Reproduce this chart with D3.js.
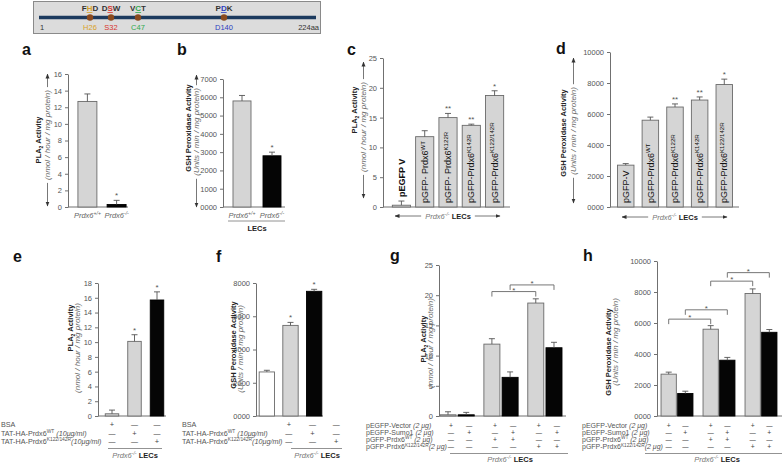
<!DOCTYPE html>
<html><head><meta charset="utf-8">
<script src="https://cdn.jsdelivr.net/npm/d3@7"></script>
<style>body{margin:0;background:#fff}svg{display:block}text{font-family:"Liberation Sans",Arial,sans-serif}</style>
</head><body>
<svg id="c" width="784" height="464"></svg>
<script>
// ---------------- DATA ----------------
const residues = ["H26", "S32", "C47", "D140"];
const residuePos = [26, 32, 47, 140];
const motifs = ["FHD", "DSW", "VCT", "PDK"];

const aCategories = ["Prdx6^+/+", "Prdx6^-/-"];
const aValues = [12.7, 0.3];
const aErrors = [0.9, 0.5];
const aStars = ["", "*"];

const bCategories = ["Prdx6^+/+", "Prdx6^-/-"];
const bValues = [5800, 2800];
const bErrors = [300, 200];
const bStars = ["", "*"];

const cCategories = ["pEGFP V", "pGFP- Prdx6^WT", "pGFP- Prdx6^K122R", "pGFP-Prdx6^K142R", "pGFP-Prdx6^K122/142R"];
const cValues = [0.3, 11.8, 15.0, 13.7, 18.7];
const cErrors = [0.7, 1.0, 0.7, 0.2, 0.8];
const cStars = ["", "", "**", "**", "*"];

const dCategories = ["pGFP-V", "pGFP-Prdx6^WT", "pGFP-Prdx6^K122R", "pGFP-Prdx6^K142R", "pGFP-Prdx6^K122/142R"];
const dValues = [2700, 5600, 6450, 6900, 7900];
const dErrors = [100, 200, 200, 200, 350];
const dStars = ["", "", "**", "**", "*"];

const eValues = [0.3, 10.1, 15.7];
const eErrors = [0.5, 0.9, 1.1];
const eStars = ["", "*", "*"];
const efRows = ["BSA", "TAT-HA-Prdx6^WT^~ (10μg/ml)", "TAT-HA-Prdx6^K122/142R^~(10μg/ml)"];
const efSigns = [["+", "—", "—"], ["—", "+", "—"], ["—", "—", "+"]];

const fValues = [2650, 5450, 7500];
const fErrors = [100, 180, 120];
const fStars = ["", "*", "*"];

const gValues = [0.2, 0.2, 11.9, 6.4, 18.7, 11.3];
const gErrors = [0.5, 0.4, 0.9, 0.9, 0.7, 0.9];
const gBrackets = [[2, 4, 20.6], [3, 5, 21.7]];

const hValues = [2700, 1450, 5600, 3600, 7900, 5400];
const hErrors = [130, 150, 230, 180, 300, 180];
const hBrackets = [[0, 2, 6250], [1, 3, 6850], [2, 4, 8700], [3, 5, 9250]];

const ghRows = ["pEGFP-Vector ~(2 μg)", "pEGFP-Sumo1 ~(2 μg)", "pGFP-Prdx6^WT^~ (2 μg)", "pGFP-Prdx6^K122/142R^~(2 μg)"];
const ghSigns = [["+", "—", "+", "—", "+", "—"], ["—", "+", "—", "+", "—", "+"], ["—", "—", "+", "+", "—", "—"], ["—", "—", "—", "—", "+", "+"]];

const pla2Title = "PLA_2_ Activity";
const pla2Unit = "(nmol / hour / mg protein)";
const gshTitle = "GSH Peroxidase  Activity";
const gshUnit = "(Units / min / mg protein)";
const footerText = "~Prdx6^-/-^~ `LECs";

// ---------------- STYLE ----------------
const GRAY = "#d5d5d5", BLACK = "#050505", WHITE = "#ffffff";
const AXIS = "#707070", TICKTXT = "#555";
const svg = d3.select("#c");
const defs = svg.append("defs");
defs.append("marker").attr("id", "ah").attr("viewBox", "0 0 10 10").attr("refX", 9).attr("refY", 5)
  .attr("markerWidth", 5).attr("markerHeight", 5).attr("markerUnits", "userSpaceOnUse").attr("orient", "auto")
  .append("path").attr("d", "M0,1 L10,5 L0,9 Z").attr("fill", "#333");

function parseRich(s) {
  const parts = []; let cur = "", sup = false, sub = false, it = false, bold = false;
  const flush = () => { if (cur) parts.push({ t: cur, sup, sub, it, bold }); cur = ""; };
  for (const ch of s) {
    if (ch === "^") { flush(); sup = !sup; }
    else if (ch === "_") { flush(); sub = !sub; }
    else if (ch === "~") { flush(); it = !it; }
    else if (ch === "`") { flush(); bold = !bold; }
    else cur += ch;
  }
  flush(); return parts;
}
function rich(sel, s, fs, boldFill) {
  let shift = 0;
  parseRich(s).forEach(p => {
    const ts = sel.append("tspan").text(p.t);
    const target = p.sup ? -fs * 0.38 : p.sub ? fs * 0.25 : 0;
    if (p.sup || p.sub) ts.attr("font-size", fs * 0.68);
    if (target !== shift) { ts.attr("dy", target - shift); shift = target; }
    if (p.it) ts.attr("font-style", "italic");
    if (p.bold) { ts.attr("font-weight", "bold"); if (boldFill) ts.attr("fill", boldFill); }
  });
  return sel;
}

// ---------------- TOP DIAGRAM ----------------
(function () {
  const resColors = ["#d9a227", "#d8342c", "#2eaa4c", "#2b3fc0"];
  const xs = d3.scaleLinear().domain([1, 26, 32, 47, 140, 224]).range([39, 90, 111, 138, 224, 316]);
  svg.append("rect").attr("x", 33.5).attr("y", 1.5).attr("width", 287).attr("height", 32)
    .attr("fill", "#dcdcdc").attr("stroke", "#8a8a8a");
  svg.append("line").attr("x1", xs(1)).attr("x2", xs(224)).attr("y1", 17.5).attr("y2", 17.5)
    .attr("stroke", "#1c3a5e").attr("stroke-width", 3.5);
  residuePos.forEach((p, i) => {
    svg.append("circle").attr("cx", xs(p)).attr("cy", 17.5).attr("r", 3.2).attr("fill", "#8a4a1e");
    const t = svg.append("text").attr("x", xs(p)).attr("y", 11).attr("text-anchor", "middle")
      .attr("font-size", 8).attr("font-weight", "bold").attr("fill", "#333");
    const m = motifs[i];
    t.append("tspan").text(m[0]);
    t.append("tspan").text(m[1]).attr("fill", resColors[i]).attr("text-decoration", "underline");
    t.append("tspan").text(m[2]);
    svg.append("text").attr("x", xs(p)).attr("y", 29.5).attr("text-anchor", "middle")
      .attr("font-size", 7.5).attr("fill", resColors[i]).text(residues[i]);
  });
  svg.append("text").attr("x", 40).attr("y", 29.5).attr("font-size", 7.5).attr("fill", "#333").text("1");
  svg.append("text").attr("x", 319).attr("y", 29.5).attr("text-anchor", "end").attr("font-size", 7.5).attr("fill", "#333").text("224aa");
})();

// ---------------- PANEL HELPERS ----------------
function drawPanel(p) {
  const y = d3.scaleLinear().domain([0, p.max]).range([p.y0, p.yMax]);
  let bx, bw;
  if (p.grouped) {
    const xg = d3.scaleBand().domain(d3.range(p.values.length / 2)).range(p.xRange).paddingInner(p.pi).paddingOuter(p.po);
    const xi = d3.scaleBand().domain([0, 1]).range([0, xg.bandwidth()]).paddingInner(p.pii);
    bx = i => xg(Math.floor(i / 2)) + xi(i % 2); bw = xi.bandwidth();
  } else {
    const x = d3.scaleBand().domain(d3.range(p.values.length)).range(p.xRange).paddingInner(p.pi).paddingOuter(p.po);
    bx = i => x(i); bw = x.bandwidth();
  }
  const cx = i => bx(i) + bw / 2;
  const g = svg.append("g");
  const ax = g.append("g").attr("transform", `translate(${p.axisX},0)`)
    .call(d3.axisLeft(y).tickValues(p.ticks).tickFormat(p.fmt).tickSize(3).tickSizeOuter(0).tickPadding(3))
    .attr("font-family", "'Liberation Sans', Arial, sans-serif").attr("font-size", p.tickFs || 7.5);
  ax.select(".domain").attr("stroke", AXIS);
  ax.selectAll(".tick line").attr("stroke", AXIS);
  ax.selectAll(".tick text").attr("fill", TICKTXT);
  g.append("line").attr("x1", p.axisX).attr("x2", p.axisEnd).attr("y1", y(0)).attr("y2", y(0)).attr("stroke", AXIS);
  p.values.forEach((v, i) => {
    const f = p.fills[i % p.fills.length];
    g.append("rect").attr("x", bx(i)).attr("y", y(v)).attr("width", bw).attr("height", y(0) - y(v))
      .attr("fill", f).attr("stroke", f === BLACK ? "#000" : "#6a6a6a").attr("stroke-width", 0.9);
    const top = y(v + p.errors[i]);
    g.append("line").attr("x1", cx(i)).attr("x2", cx(i)).attr("y1", y(v)).attr("y2", top).attr("stroke", "#555").attr("stroke-width", 0.9);
    g.append("line").attr("x1", cx(i) - 3).attr("x2", cx(i) + 3).attr("y1", top).attr("y2", top).attr("stroke", "#555").attr("stroke-width", 0.9);
    if (p.stars && p.stars[i]) {
      g.append("text").attr("x", cx(i)).attr("y", top - 2).attr("text-anchor", "middle")
        .attr("font-size", 8).attr("fill", "#555").text(p.stars[i]);
    }
  });
  if (p.brackets) {
    p.brackets.forEach(([a, b, lvl]) => {
      const yy = y(lvl);
      g.append("path").attr("d", `M${cx(a)},${yy + 5}V${yy}H${cx(b)}V${yy + 5}`)
        .attr("fill", "none").attr("stroke", "#666").attr("stroke-width", 0.9);
      g.append("text").attr("x", (cx(a) + cx(b)) / 2).attr("y", yy + 1).attr("text-anchor", "middle")
        .attr("font-size", 8).attr("fill", "#555").text("*");
    });
  }
  return { y, cx, bx, bw };
}

function yTitle(t) {
  const a = svg.append("text").attr("transform", `translate(${t.tx},${t.ty}) rotate(-90)`)
    .attr("text-anchor", "middle").attr("font-size", 7.5).attr("font-weight", "bold").attr("fill", "#222");
  rich(a, t.title, 7.5);
  const s = svg.append("text").attr("transform", `translate(${t.sx},${t.sy}) rotate(-90)`)
    .attr("text-anchor", "middle").attr("font-size", 8).attr("font-style", "italic").attr("fill", "#6a6a6a").text(t.sub);
  if (t.arrow) {
    const L = s.node().getComputedTextLength();
    svg.append("line").attr("x1", t.arrow.x).attr("x2", t.arrow.x).attr("y1", t.sy - L / 2 - 3).attr("y2", t.arrow.top)
      .attr("stroke", "#555").attr("stroke-width", 0.8).attr("marker-end", "url(#ah)");
    svg.append("line").attr("x1", t.arrow.x).attr("x2", t.arrow.x).attr("y1", t.sy + L / 2 + 3).attr("y2", t.arrow.bottom)
      .attr("stroke", "#555").attr("stroke-width", 0.8).attr("marker-end", "url(#ah)");
  }
}

function footer(f) {
  const t = svg.append("text").attr("x", f.tx).attr("y", f.ty).attr("text-anchor", "middle")
    .attr("font-size", 7.5).attr("fill", "#777");
  rich(t, f.text, 7.5, "#222");
  if (f.arrow) {
    const L = t.node().getComputedTextLength();
    svg.append("line").attr("x1", f.tx - L / 2 - 4).attr("x2", f.x1).attr("y1", f.ly).attr("y2", f.ly)
      .attr("stroke", "#555").attr("stroke-width", 0.8).attr("marker-end", "url(#ah)");
    svg.append("line").attr("x1", f.tx + L / 2 + 4).attr("x2", f.x2).attr("y1", f.ly).attr("y2", f.ly)
      .attr("stroke", "#555").attr("stroke-width", 0.8).attr("marker-end", "url(#ah)");
  } else {
    svg.append("line").attr("x1", f.x1).attr("x2", f.x2).attr("y1", f.ly).attr("y2", f.ly)
      .attr("stroke", "#777").attr("stroke-width", 0.8);
  }
}

function table(tb, cx) {
  const fs = tb.fs || 7.2;
  const sfs = tb.sfs || 7.5;
  tb.rows.forEach((r, k) => {
    const t = svg.append("text").attr("x", tb.lx).attr("y", tb.rowY[k]).attr("font-size", fs).attr("fill", "#555");
    rich(t, r, fs);
    tb.signs[k].forEach((s, i) => {
      svg.append("text").attr("x", cx(i) + (tb.shift || 0)).attr("y", tb.rowY[k]).attr("text-anchor", "middle")
        .attr("font-size", s === "+" ? sfs : sfs - 0.5).attr("fill", "#444").text(s);
    });
  });
}

function panelLetter(ch, x, y) {
  svg.append("text").attr("x", x).attr("y", y).attr("font-size", 16).attr("font-weight", "bold").attr("fill", "#111").text(ch);
}

function xLabels(cats, cx, y) {
  cats.forEach((c, i) => {
    const t = svg.append("text").attr("x", cx(i)).attr("y", y).attr("text-anchor", "middle")
      .attr("font-size", 7.5).attr("font-style", "italic").attr("fill", "#666");
    rich(t, c, 7.5);
  });
}

function barLabels(cats, P, boldFirst) {
  cats.forEach((c, i) => {
    const t = svg.append("text").attr("font-size", 9).attr("fill", "#111");
    let y0 = P.y(0) - 4;
    if (boldFirst && i === 0) { t.attr("font-weight", "bold"); y0 -= 6; }
    t.attr("transform", `translate(${P.cx(i) + 3.2},${y0}) rotate(-90)`);
    rich(t, c, 9);
  });
}

// ---------------- PANELS ----------------
// a
panelLetter("a", 22, 55);
const PA = drawPanel({ values: aValues, errors: aErrors, stars: aStars, fills: [GRAY, BLACK], max: 16,
  ticks: d3.range(0, 17, 2), fmt: d => d, axisX: 68, axisEnd: 128, y0: 207, yMax: 74, xRange: [75, 129], pi: 0.35, po: 0.1 });
yTitle({ title: pla2Title, tx: 41, ty: 140, sub: pla2Unit, sx: 50, sy: 135, arrow: { x: 47.5, top: 74, bottom: 206 } });
xLabels(aCategories, PA.cx, 218);

// b
panelLetter("b", 177, 55);
const PB = drawPanel({ values: bValues, errors: bErrors, stars: bStars, fills: [GRAY, BLACK], max: 7000,
  ticks: d3.range(0, 7001, 1000), fmt: d => d === 0 ? "0000" : d, axisX: 223, axisEnd: 285, y0: 207, yMax: 79, xRange: [230, 284], pi: 0.4, po: 0.1 });
yTitle({ title: gshTitle, tx: 191, ty: 128, sub: gshUnit, sx: 199, sy: 132, arrow: { x: 196.5, top: 75, bottom: 207 } });
xLabels(bCategories, PB.cx, 218);
svg.append("line").attr("x1", 228).attr("x2", 285).attr("y1", 221).attr("y2", 221).attr("stroke", "#777").attr("stroke-width", 0.8);
svg.append("text").attr("x", 257).attr("y", 230.5).attr("text-anchor", "middle").attr("font-size", 7.5).attr("font-weight", "bold").attr("fill", "#222").text("LECs");

// c
panelLetter("c", 347, 55);
const PC = drawPanel({ values: cValues, errors: cErrors, stars: cStars, fills: [GRAY], max: 25,
  ticks: d3.range(0, 26, 5), fmt: d => d, axisX: 383, axisEnd: 510, y0: 207, yMax: 58, xRange: [390, 506], pi: 0.22, po: 0.1 });
yTitle({ title: pla2Title, tx: 357, ty: 110, sub: pla2Unit, sx: 366, sy: 127, arrow: { x: 363.5, top: 62, bottom: 198 } });
barLabels(cCategories, PC, true);
footer({ text: footerText, tx: 448, ty: 218.5, arrow: true, x1: 395, x2: 500, ly: 216 });

// d
panelLetter("d", 556, 54);
const PD = drawPanel({ values: dValues, errors: dErrors, stars: dStars, fills: [GRAY], max: 10000,
  ticks: d3.range(0, 10001, 2000), fmt: d => d === 0 ? "0000" : d, axisX: 610, axisEnd: 739, y0: 207, yMax: 52, xRange: [615, 735], pi: 0.33, po: 0.1 });
yTitle({ title: gshTitle, tx: 566, ty: 133, sub: gshUnit, sx: 576, sy: 131, arrow: { x: 573.5, top: 58, bottom: 203 } });
barLabels(dCategories, PD, false);
footer({ text: footerText, tx: 675, ty: 219.5, arrow: true, x1: 622, x2: 727, ly: 217 });

// e
panelLetter("e", 13, 262);
const PE = drawPanel({ values: eValues, errors: eErrors, stars: eStars, fills: [GRAY, GRAY, BLACK], max: 18,
  ticks: d3.range(0, 19, 2), fmt: d => d, axisX: 98, axisEnd: 166, y0: 416, yMax: 283, xRange: [103, 166], pi: 0.4, po: 0.1 });
yTitle({ title: pla2Title, tx: 73, ty: 328, sub: pla2Unit, sx: 80, sy: 348 });
table({ rows: efRows, signs: efSigns, lx: 1, rowY: [427, 435.5, 444] }, PE.cx);
footer({ text: footerText, tx: 135, ty: 457.5, x1: 108, x2: 162, ly: 448.5 });

// f
panelLetter("f", 216, 262);
const PF = drawPanel({ values: fValues, errors: fErrors, stars: fStars, fills: [WHITE, GRAY, BLACK], max: 8000,
  ticks: d3.range(0, 8001, 2000), fmt: d => d === 0 ? "0000" : d, axisX: 256, axisEnd: 323, y0: 416, yMax: 283, xRange: [258, 323], pi: 0.35, po: 0.05 });
yTitle({ title: gshTitle, tx: 236, ty: 345, sub: gshUnit, sx: 243, sy: 349 });
table({ rows: efRows, signs: efSigns, lx: 182, rowY: [427, 435.5, 444], shift: 22 }, PF.cx);
footer({ text: footerText, tx: 317, ty: 457.5, x1: 291, x2: 342, ly: 448.5 });

// g
panelLetter("g", 390, 261);
const PG = drawPanel({ values: gValues, errors: gErrors, fills: [GRAY, BLACK], max: 25, grouped: true, brackets: gBrackets,
  ticks: d3.range(0, 26, 5), fmt: d => d, axisX: 439, axisEnd: 566, y0: 416, yMax: 265, xRange: [440, 562], pi: 0.22, po: 0, pii: 0.12 });
yTitle({ title: pla2Title, tx: 426, ty: 339, sub: pla2Unit, sx: 433, sy: 343 });
table({ rows: ghRows, signs: ghSigns, lx: 366, rowY: [427.5, 434.8, 442.1, 449.4], shift: 3, fs: 7, sfs: 6.8 }, PG.cx);
footer({ text: footerText, tx: 510, ty: 461.5, x1: 450, x2: 568, ly: 453.5 });

// h
panelLetter("h", 583, 261);
const PH = drawPanel({ values: hValues, errors: hErrors, fills: [GRAY, BLACK], max: 10000, grouped: true, brackets: hBrackets,
  ticks: d3.range(0, 10001, 2000), fmt: d => d === 0 ? "0000" : d, axisX: 657, axisEnd: 782, y0: 416, yMax: 261, xRange: [656, 782], pi: 0.24, po: 0.12, pii: 0.08 });
yTitle({ title: gshTitle, tx: 611, ty: 352, sub: gshUnit, sx: 618, sy: 342 });
table({ rows: ghRows, signs: ghSigns, lx: 582, rowY: [427.5, 434.8, 442.1, 449.4], fs: 7, sfs: 6.8 }, PH.cx);
footer({ text: footerText, tx: 717, ty: 461.5, x1: 645, x2: 782, ly: 453.5 });
</script>
</body></html>
